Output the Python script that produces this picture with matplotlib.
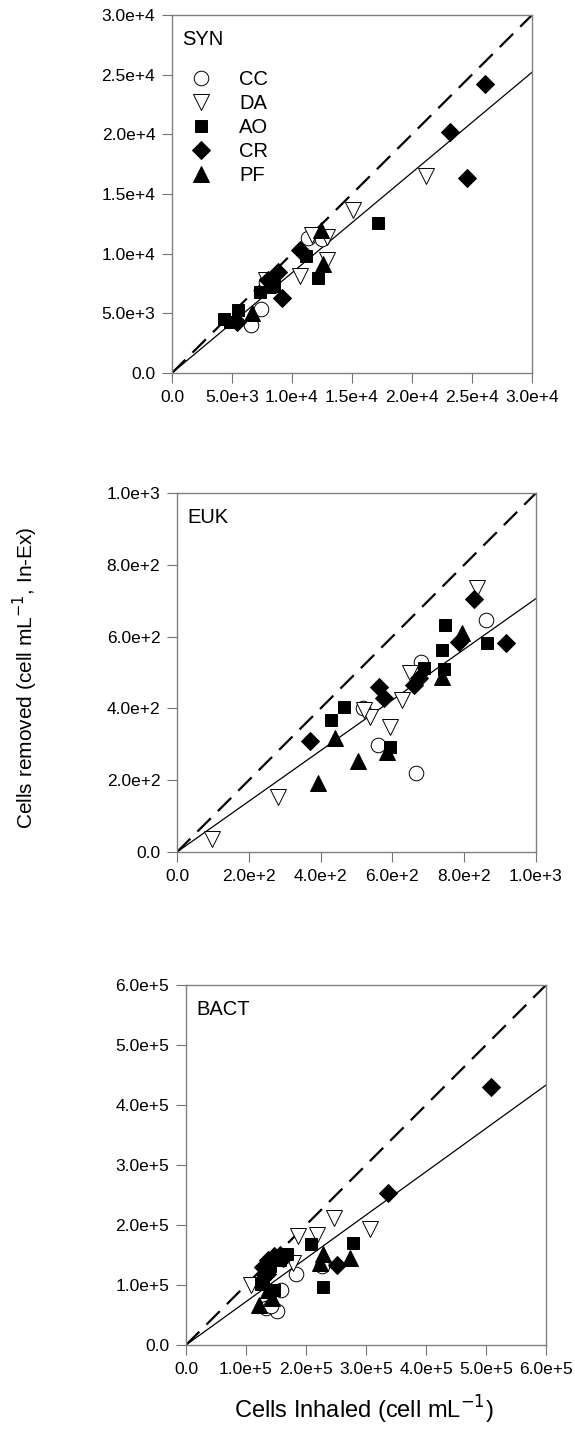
# Cells removed vs cells inhaled for SYN, EUK and BACT, five species each
import matplotlib.pyplot as plt

plt.rcParams['font.family'] = ['Liberation Sans', 'DejaVu Sans']

species = ['CC', 'DA', 'AO', 'CR', 'PF']
markers = {'CC': 'o', 'DA': 'v', 'AO': 's', 'CR': 'D', 'PF': '^'}
filled = {'CC': False, 'DA': False, 'AO': True, 'CR': True, 'PF': True}
msize = {'CC': 10.5, 'DA': 11, 'AO': 9, 'CR': 9, 'PF': 11}

# SYN (cells mL-1): inhaled x, removed y
syn_x = {
    'CC': [6600, 7400, 11300, 12500, 7800],
    'DA': [21200, 15100, 10700, 12900, 11700, 12900, 7800],
    'AO': [17200, 12200, 11200, 7300, 5500, 4300, 4800, 8500],
    'CR': [26100, 23200, 24600, 9200, 8800, 10700, 8000, 5400],
    'PF': [12400, 12600, 6700, 8000],
}
syn_y = {
    'CC': [4000, 5400, 11300, 11200, 7600],
    'DA': [16500, 13700, 8100, 9500, 11600, 11400, 7800],
    'AO': [12600, 8000, 9800, 6800, 5300, 4500, 4300, 7300],
    'CR': [24200, 20200, 16300, 6300, 8500, 10300, 7800, 4300],
    'PF': [12000, 9100, 5000, 7400],
}

# EUK
euk_x = {
    'CC': [861, 667, 560, 517, 681],
    'DA': [97, 280, 592, 538, 627, 650, 836, 520],
    'AO': [746, 738, 743, 864, 687, 466, 429, 594],
    'CR': [826, 917, 785, 659, 673, 564, 576, 370],
    'PF': [392, 441, 503, 585, 738, 794],
}
euk_y = {
    'CC': [647, 221, 298, 400, 530],
    'DA': [37, 152, 349, 375, 423, 498, 735, 395],
    'AO': [633, 563, 509, 583, 512, 405, 367, 293],
    'CR': [705, 583, 586, 465, 484, 459, 428, 309],
    'PF': [191, 318, 253, 279, 488, 609],
}

# BACT
bact_x = {
    'CC': [1.51e5, 1.34e5, 1.59e5, 1.84e5, 2.26e5, 1.42e5],
    'DA': [2.46e5, 3.06e5, 1.87e5, 2.19e5, 1.09e5, 1.78e5],
    'AO': [2.78e5, 2.09e5, 2.28e5, 1.68e5, 1.28e5, 1.40e5, 1.57e5, 1.46e5, 1.25e5],
    'CR': [5.09e5, 3.36e5, 2.52e5, 1.29e5, 1.37e5, 1.46e5, 1.57e5, 1.35e5, 1.62e5],
    'PF': [2.74e5, 2.28e5, 2.23e5, 1.22e5, 1.43e5, 1.37e5],
}
bact_y = {
    'CC': [0.56e5, 0.61e5, 0.92e5, 1.19e5, 1.31e5, 0.65e5],
    'DA': [2.12e5, 1.94e5, 1.82e5, 1.84e5, 1.00e5, 1.37e5],
    'AO': [1.70e5, 1.68e5, 0.97e5, 1.51e5, 1.09e5, 1.31e5, 1.42e5, 0.92e5, 1.02e5],
    'CR': [4.30e5, 2.53e5, 1.34e5, 1.30e5, 1.42e5, 1.48e5, 1.50e5, 1.18e5, 1.45e5],
    'PF': [1.45e5, 1.51e5, 1.37e5, 0.67e5, 0.78e5, 0.92e5],
}

# regression slopes (line through origin) and axis limits
slopes = [0.84, 0.706, 0.722]
limits = [3.0e4, 1.0e3, 6.0e5]
steps = [5.0e3, 2.0e2, 1.0e5]
names = ['SYN', 'EUK', 'BACT']

W, H = 575, 1440
boxes = [(172, 15, 532, 373), (177, 493, 536, 852), (186, 985, 546, 1345)]

fig = plt.figure(figsize=(W / 100, H / 100), dpi=100)

def fmt(v):
    if v == 0:
        return '0.0'
    s = '%.1e' % v
    mant, ex = s.split('e')
    return '%se+%d' % (mant, int(ex))

panels = [(syn_x, syn_y), (euk_x, euk_y), (bact_x, bact_y)]
for i, (xs, ys) in enumerate(panels):
    l, t, r, b = boxes[i]
    ax = fig.add_axes([l / W, 1 - b / H, (r - l) / W, (b - t) / H])
    lim = limits[i]
    ax.set_xlim(0, lim)
    ax.set_ylim(0, lim)

    ax.plot([0, lim], [0, lim], color='black', lw=1.6, dashes=(8.5, 4.5), zorder=1)
    ax.plot([0, lim], [0, slopes[i] * lim], color='black', lw=0.9, zorder=1)

    for sp in species:
        face = 'black' if filled[sp] else 'white'
        ax.plot(xs[sp], ys[sp], ls='none', marker=markers[sp], ms=msize[sp],
                mfc=face, mec='black', mew=0.7, label=sp, zorder=3)

    ticks = [k * steps[i] for k in range(7) if k * steps[i] <= lim * 1.0001]
    ax.set_xticks(ticks)
    ax.set_yticks(ticks)
    ax.set_xticklabels([fmt(v) for v in ticks])
    ax.set_yticklabels([fmt(v) for v in ticks])
    ax.tick_params(direction='out', length=7, width=0.8, color='0.45',
                   labelsize=12.5, pad=5, top=False, right=False)
    for s in ax.spines.values():
        s.set_color('0.5')
        s.set_linewidth(1.0)

    ax.text(0.028, 0.958, names[i], transform=ax.transAxes, fontsize=14.5,
            va='top', ha='left')

    if i == 0:
        ax.legend(loc='upper left', bbox_to_anchor=(0.03, 0.87), frameon=False,
                  fontsize=14.5, handlelength=1.0, handletextpad=1.4,
                  labelspacing=0.25, borderaxespad=0)

fig.text(25 / W, 1 - 678 / H, 'Cells removed (cell mL$^{-1}$, In-Ex)',
         rotation=90, ha='center', va='center', fontsize=15)
fig.text(364 / W, 1 - 1410 / H, 'Cells Inhaled (cell mL$^{-1}$)',
         ha='center', va='center', fontsize=17)

fig.savefig('out.png', dpi=100)
